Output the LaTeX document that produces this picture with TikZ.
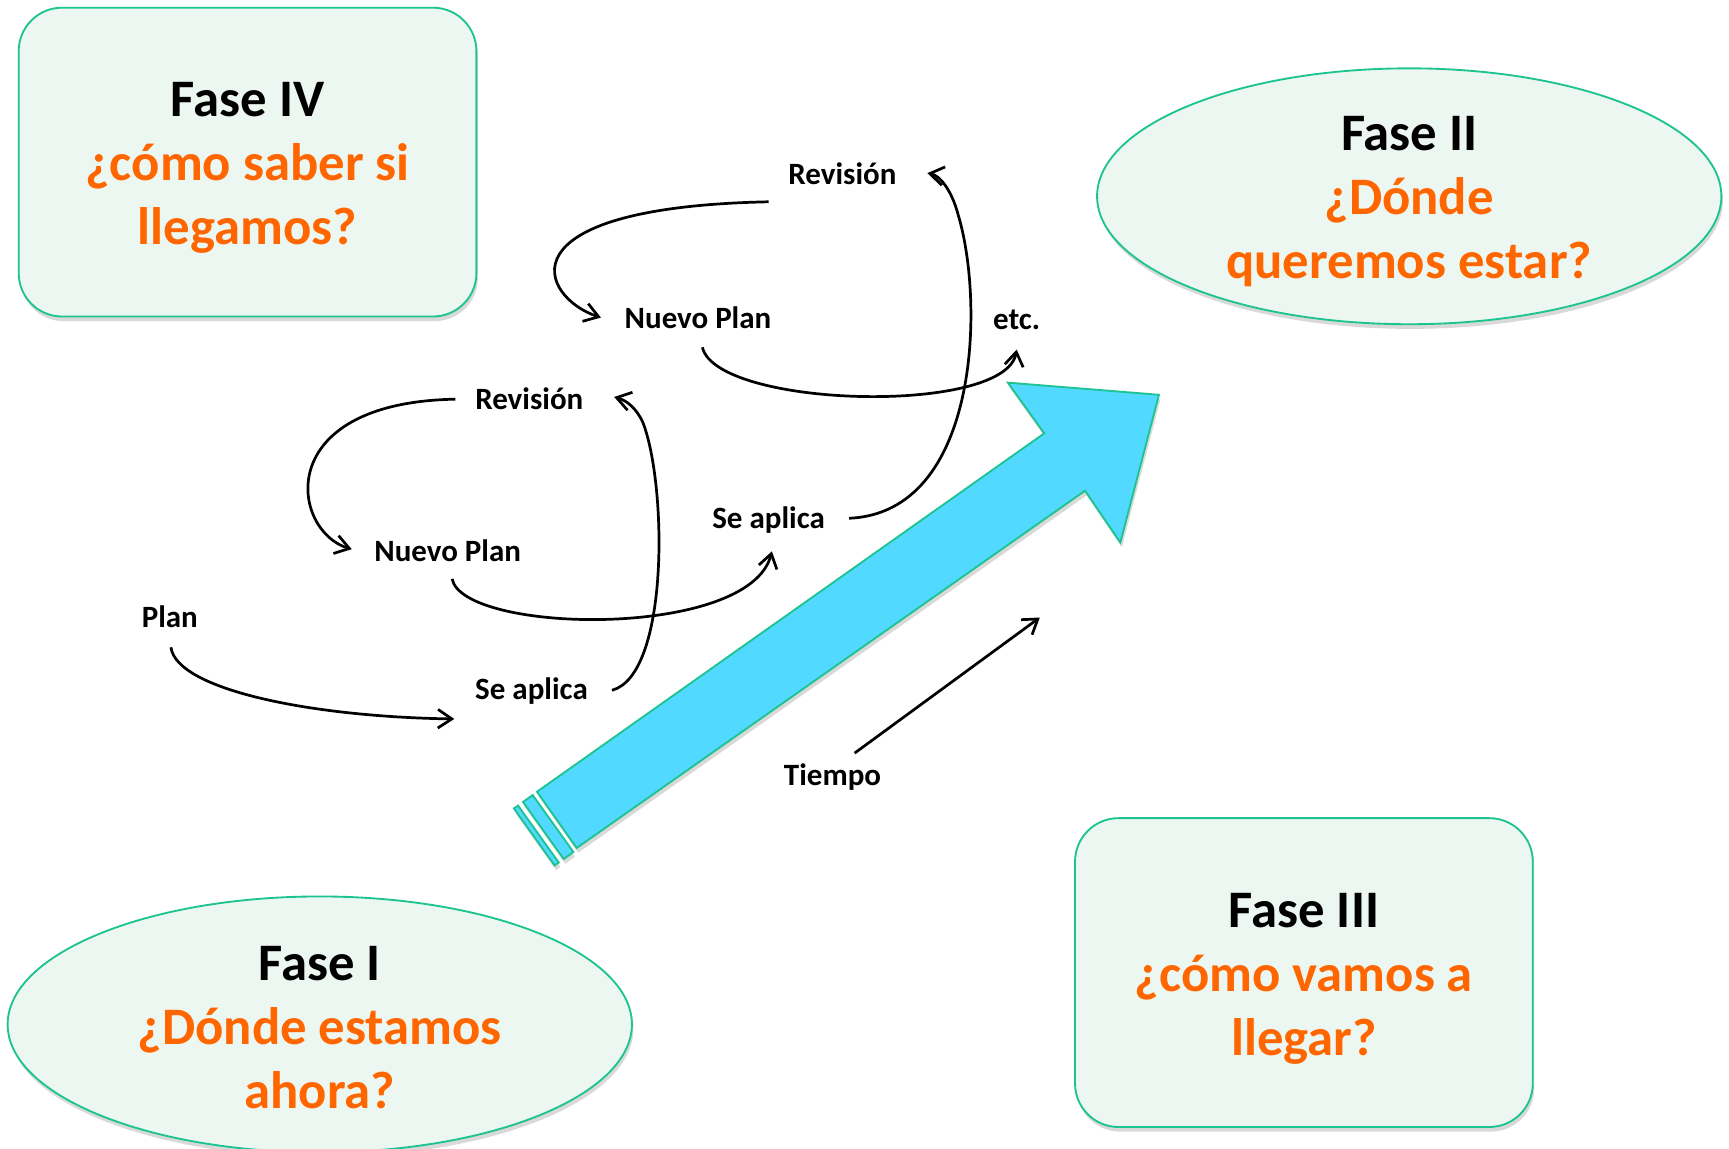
\documentclass[tikz,border=0pt]{standalone}
\usepackage{fontspec}
\setmainfont{Carlito}
\usetikzlibrary{arrows.meta,calc,shapes.geometric,shadows}
\definecolor{mintfill}{HTML}{EDF7F1}
\definecolor{phaseline}{HTML}{1DC491}
\definecolor{orng}{HTML}{FF6600}
\definecolor{cyanfill}{HTML}{52D9FF}
\begin{document}
\begin{tikzpicture}[x=0.025cm,y=-0.025cm,
  softshadow/.style={drop shadow={shadow xshift=1pt,shadow yshift=-3pt,opacity=0.15,fill=black}},
  phasebox/.style={rectangle,rounded corners=28pt,draw=phaseline,fill=mintfill,line width=1.2pt,
    inner sep=0pt,minimum width=10.375cm,minimum height=7cm,softshadow},
  phaseell/.style={ellipse,draw=phaseline,fill=mintfill,line width=1.2pt,
    inner sep=0pt,minimum width=14.15cm,minimum height=5.8cm,softshadow},
  phasetext/.style={inner sep=0pt,align=center,font=\bfseries\fontsize{34}{41.3}\selectfont},
  lbl/.style={font=\bfseries\fontsize{20}{24}\selectfont,inner sep=0pt},
  conn/.style={line width=1.75pt,-{Straight Barb[length=9pt,width=12pt,line width=1.75pt]}},
  bigarrow/.style={fill=cyanfill,draw=phaseline,line width=1.2pt,line join=miter,softshadow}
]
\useasboundingbox (0,0) rectangle (1568,1042);
\fill[white] (0,0) rectangle (1568,1042);
\clip (0,0) rectangle (1568,1042);

% phase shapes
\node[phasebox] (f4) at (224.5,147) {};
\node[phaseell] (f2) at (1278,178) {};
\node[phasebox] (f3) at (1182.5,882) {};
\node[phaseell] (f1) at (290,929) {};
\node[phasetext] (t4) at ($(f4)+(0,5)$) {Fase IV\\\textcolor{orng}{¿cómo saber si}\\\textcolor{orng}{llegamos?}};
\node[phasetext] (t2) at ($(f2)+(0,5)$) {Fase II\\\textcolor{orng}{¿Dónde}\\\textcolor{orng}{queremos estar?}};
\node[phasetext] (t3) at ($(f3)+(0,6)$) {Fase III\\\textcolor{orng}{¿cómo vamos a}\\\textcolor{orng}{llegar?}};
\node[phasetext] (t1) at ($(f1)+(0,3)$) {Fase I\\\textcolor{orng}{¿Dónde estamos}\\\textcolor{orng}{ahora?}};

% big striped arrow
\path[bigarrow] (487,718) -- (947,393) -- (914,347) -- (1051,358) -- (1016,492) -- (984,445) -- (523,769) -- cycle;
\path[bigarrow] (474.3,727.3) -- (483.1,721.0) -- (520.0,772.7) -- (511.2,779.0) -- cycle;
\path[bigarrow] (466.0,733.1) -- (469.8,730.5) -- (506.7,782.2) -- (502.9,784.8) -- cycle;

% labels
\node[lbl] (plan) at (154,559) {Plan};
\node[lbl] (sa1) at (482,627) {Se aplica};
\node[lbl] (np1) at (406,499) {Nuevo Plan};
\node[lbl] (rv1) at (480,362) {Revisión};
\node[lbl] (sa2) at (697,472) {Se aplica};
\node[lbl] (np2) at (633,288) {Nuevo Plan};
\node[lbl] (rv2) at (764,158) {Revisión};
\node[lbl] (etc) at (922,290) {etc.};
\node[lbl] (tiempo) at (755,705) {Tiempo};
\coordinate (tend) at (943,560);

% connectors
\draw[conn] ($(plan)+(1,28)$) .. controls +(5,38) and +(-132,-2) .. ($(sa1)+(-70,25)$);
\draw[conn] ($(sa1)+(73,-1)$) .. controls +(52,-14) and +(22,57) .. ($(rv1)+(103,21)$)
   .. controls +(-6,-13) and +(11,3) .. ($(rv1)+(77,-2)$);
\draw[conn] ($(rv1)+(-67,0)$) .. controls +(-168,3) and +(-55,-16) .. ($(np1)+(-87,-1)$);
\draw[conn] ($(np1)+(4,26)$) .. controls +(10,50) and +(-20,80) .. ($(sa2)+(3,28)$);
\draw[conn] ($(sa2)+(73,-2)$) .. controls +(118,-5) and +(24,80) .. ($(rv2)+(105,37)$)
   .. controls +(-6,-23) and +(11,2) .. ($(rv2)+(77,-1)$);
\draw[conn] ($(rv2)+(-67,25)$) .. controls +(-247,5) and +(-55,-18) .. ($(np2)+(-88,0)$);
\draw[conn] ($(np2)+(4,27)$) .. controls +(13,55) and +(-10,60) .. ($(etc)+(0,27)$);
\draw[conn] ($(tiempo)+(20,-22)$) -- (tend);
\end{tikzpicture}
\end{document}
